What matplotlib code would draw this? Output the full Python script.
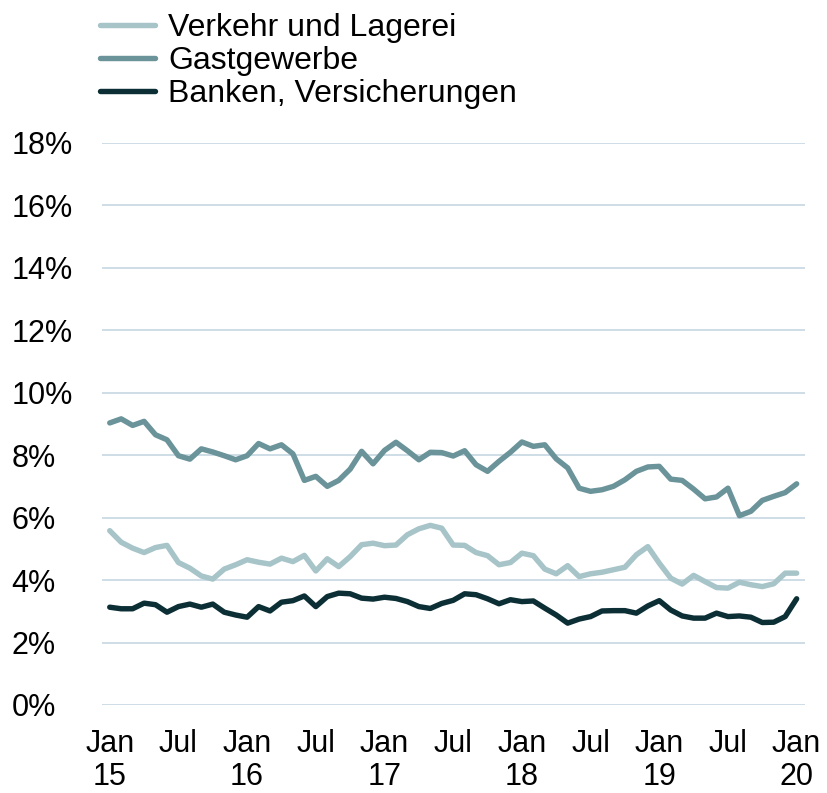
import numpy as np
import matplotlib.pyplot as plt
import pandas as pd

plt.rcParams['font.family'] = ['Liberation Sans', 'DejaVu Sans']

# monthly values Jan 2015 .. Jan 2020, in percent
months = pd.date_range('2015-01-01', '2020-01-01', freq='MS')

verkehr = [5.58, 5.21, 5.02, 4.88, 5.04, 5.11, 4.56, 4.38, 4.13, 4.03, 4.35, 4.49,
           4.65, 4.57, 4.51, 4.70, 4.59, 4.79, 4.29, 4.68, 4.43, 4.75, 5.13, 5.18,
           5.10, 5.12, 5.45, 5.64, 5.75, 5.66, 5.12, 5.11, 4.88, 4.78, 4.49, 4.56,
           4.86, 4.78, 4.35, 4.20, 4.46, 4.11, 4.20, 4.25, 4.33, 4.41, 4.81, 5.07,
           4.54, 4.06, 3.87, 4.15, 3.95, 3.76, 3.74, 3.93, 3.85, 3.79, 3.88, 4.22,
           4.22]
gastgewerbe = [9.03, 9.16, 8.95, 9.08, 8.65, 8.49, 7.98, 7.87, 8.20, 8.10, 7.98, 7.85,
               7.98, 8.37, 8.20, 8.33, 8.04, 7.19, 7.32, 7.00, 7.19, 7.55, 8.12, 7.72,
               8.15, 8.41, 8.14, 7.85, 8.09, 8.08, 7.97, 8.14, 7.69, 7.48, 7.80, 8.09,
               8.42, 8.28, 8.33, 7.88, 7.59, 6.94, 6.84, 6.89, 7.00, 7.21, 7.48, 7.62,
               7.64, 7.23, 7.19, 6.91, 6.60, 6.66, 6.94, 6.06, 6.20, 6.55, 6.68, 6.80,
               7.08]
banken = [3.13, 3.08, 3.08, 3.26, 3.21, 2.97, 3.15, 3.23, 3.13, 3.23, 2.97, 2.88,
          2.81, 3.15, 3.01, 3.29, 3.34, 3.49, 3.15, 3.47, 3.58, 3.56, 3.42, 3.39,
          3.45, 3.41, 3.31, 3.15, 3.09, 3.25, 3.35, 3.56, 3.53, 3.40, 3.24, 3.37,
          3.31, 3.33, 3.10, 2.88, 2.62, 2.75, 2.83, 3.01, 3.02, 3.02, 2.94, 3.17,
          3.34, 3.04, 2.85, 2.78, 2.78, 2.94, 2.83, 2.85, 2.81, 2.64, 2.65, 2.83,
          3.40]

names = ['Verkehr und Lagerei', 'Gastgewerbe', 'Banken, Versicherungen']
colors = ['#a7c4c9', '#6a939a', '#0c2f36']

tick_pos = list(range(0, 61, 6))
tick_labels = ['Jan\n15', 'Jul', 'Jan\n16', 'Jul', 'Jan\n17', 'Jul', 'Jan\n18', 'Jul',
               'Jan\n19', 'Jul', 'Jan\n20']
y_ticks = list(range(0, 19, 2))

fig = plt.figure(figsize=(8.27, 7.93), dpi=100)
ax = fig.add_axes([0.123, 0.111, 0.850, 0.709])

x = np.arange(len(months))
for vals, name, col in zip([verkehr, gastgewerbe, banken], names, colors):
    ax.plot(x, vals, color=col, lw=3.9, label=name, solid_capstyle='round',
            solid_joinstyle='round', zorder=3)

ax.set_ylim(0, 18)
ax.set_xlim(-0.7, 60.7)
ax.set_yticks(y_ticks)
ax.set_yticklabels([f'{v}%' for v in y_ticks])
ax.set_xticks(tick_pos)
ax.set_xticklabels(tick_labels, linespacing=1.15)
ax.grid(axis='y', color='#c6d7e1', lw=1.2)
ax.set_axisbelow(True)
for s in ax.spines.values():
    s.set_visible(False)
ax.tick_params(axis='both', length=0, labelsize=22, colors='black')
ax.tick_params(axis='x', pad=17)
ax.yaxis.set_tick_params(pad=0)
for lab in ax.get_yticklabels():
    lab.set_horizontalalignment('left')
    lab.set_x(-0.128)

fig.legend(loc='upper left', bbox_to_anchor=(0.106, 1.0), frameon=False,
           fontsize=23, handlelength=1.72, handletextpad=0.41, labelspacing=0.1,
           borderaxespad=0)

fig.savefig('out.png', dpi=100)
